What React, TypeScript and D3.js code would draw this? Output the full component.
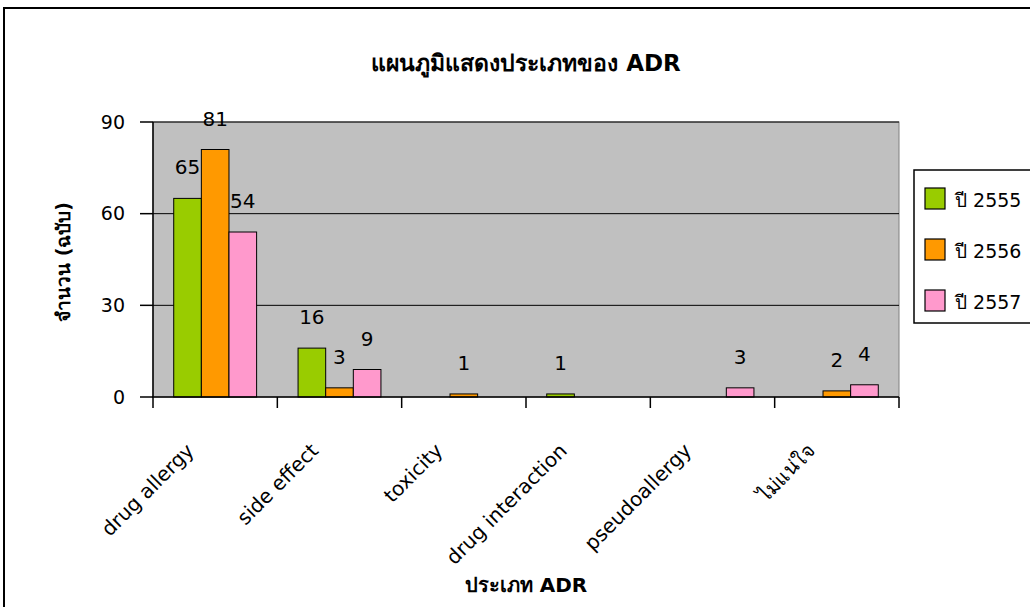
import React from "react";
import * as d3 from "d3";

const categories = ["drug allergy", "side effect", "toxicity", "drug interaction", "pseudoallergy", "ไม่แน่ใจ"];
const seriesNames = ["ปี 2555", "ปี 2556", "ปี 2557"];
const values2555 = [65, 16, 0, 1, 0, 0];
const values2556 = [81, 3, 1, 0, 0, 2];
const values2557 = [54, 9, 0, 0, 3, 4];
const seriesColors = ["#99cc00", "#ff9900", "#ff99cc"];
const yTicks = [0, 30, 60, 90];

const W = 1030;
const H = 607;
const FONT = "Tahoma, 'DejaVu Sans', 'Noto Sans', sans-serif";

export default function App() {
  const series = [values2555, values2556, values2557];
  const plot = { left: 153, right: 899, top: 122, bottom: 397 };

  const x0 = d3.scaleBand<string>().domain(categories).range([plot.left, plot.right]).paddingInner(1 / 3).paddingOuter(1 / 6);
  const x1 = d3.scaleBand<number>().domain([0, 1, 2]).range([0, x0.bandwidth()]);
  const y = d3.scaleLinear().domain([0, 90]).range([plot.bottom, plot.top]);
  const step = (plot.right - plot.left) / categories.length;
  const tickXs = d3.range(categories.length + 1).map((i) => plot.left + i * step);

  return (
    <svg width={W} height={H} style={{ position: "absolute", left: 0, top: 0, background: "#fff" }} fontFamily={FONT}>
      {/* chart frame */}
      <rect x={4} y={8} width={1100} height={700} fill="#fff" stroke="#000" strokeWidth={2} />

      <text x={526} y={71} textAnchor="middle" fontSize={23} fontWeight="bold" fill="#000">
        แผนภูมิแสดงประเภทของ ADR
      </text>

      {/* plot area */}
      <rect x={plot.left} y={plot.top} width={plot.right - plot.left} height={plot.bottom - plot.top} fill="#c0c0c0" stroke="#808080" strokeWidth={1} />
      {yTicks.filter((t) => t > 0).map((t) => (
        <line key={t} x1={plot.left} x2={plot.right} y1={y(t)} y2={y(t)} stroke="#000" strokeWidth={1} />
      ))}

      {/* bars */}
      {categories.map((c, ci) => (
        <g key={c} transform={`translate(${x0(c)},0)`}>
          {series.map((vals, si) =>
            vals[ci] > 0 ? (
              <rect key={si} x={x1(si)} y={y(vals[ci])} width={x1.bandwidth()} height={plot.bottom - y(vals[ci])} fill={seriesColors[si]} stroke="#000" strokeWidth={1} />
            ) : null
          )}
          {series.map((vals, si) =>
            vals[ci] > 0 ? (
              <text key={"l" + si} x={(x1(si) as number) + x1.bandwidth() / 2} y={y(vals[ci]) - 24} textAnchor="middle" fontSize={20} fill="#000">
                {vals[ci]}
              </text>
            ) : null
          )}
        </g>
      ))}

      {/* axes */}
      <line x1={plot.left} x2={plot.left} y1={plot.top} y2={plot.bottom} stroke="#000" strokeWidth={1.5} />
      <line x1={plot.left - 1} x2={plot.right} y1={plot.bottom} y2={plot.bottom} stroke="#000" strokeWidth={1.5} />
      {yTicks.map((t) => (
        <g key={t}>
          <line x1={plot.left - 13} x2={plot.left} y1={y(t)} y2={y(t)} stroke="#000" strokeWidth={1.5} />
          <text x={125} y={y(t)} dy="0.35em" textAnchor="end" fontSize={19} fill="#000">
            {t}
          </text>
        </g>
      ))}
      {tickXs.map((tx, i) => (
        <line key={i} x1={tx} x2={tx} y1={plot.bottom} y2={plot.bottom + 11} stroke="#000" strokeWidth={1.5} />
      ))}
      {categories.map((c) => {
        const cx = (x0(c) as number) + x0.bandwidth() / 2;
        return (
          <text key={c} transform={`translate(${cx - 20},${plot.bottom + 55}) rotate(-45)`} textAnchor="end" fontSize={20} fill="#000">
            {c}
          </text>
        );
      })}

      <text x={526} y={592} textAnchor="middle" fontSize={20} fontWeight="bold" fill="#000">
        ประเภท ADR
      </text>
      <text transform={`translate(70,262) rotate(-90)`} textAnchor="middle" fontSize={19} fontWeight="bold" fill="#000">
        จำนวน (ฉบับ)
      </text>

      {/* legend */}
      <rect x={914} y={170} width={140} height={153} fill="#fff" stroke="#000" strokeWidth={1.5} />
      {seriesNames.map((n, i) => (
        <g key={n} transform={`translate(925,${188 + i * 51})`}>
          <rect x={0} y={0} width={20} height={21} fill={seriesColors[i]} stroke="#000" strokeWidth={1.2} />
          <text x={30} y={19} fontSize={19} fill="#000">
            {n}
          </text>
        </g>
      ))}
    </svg>
  );
}
